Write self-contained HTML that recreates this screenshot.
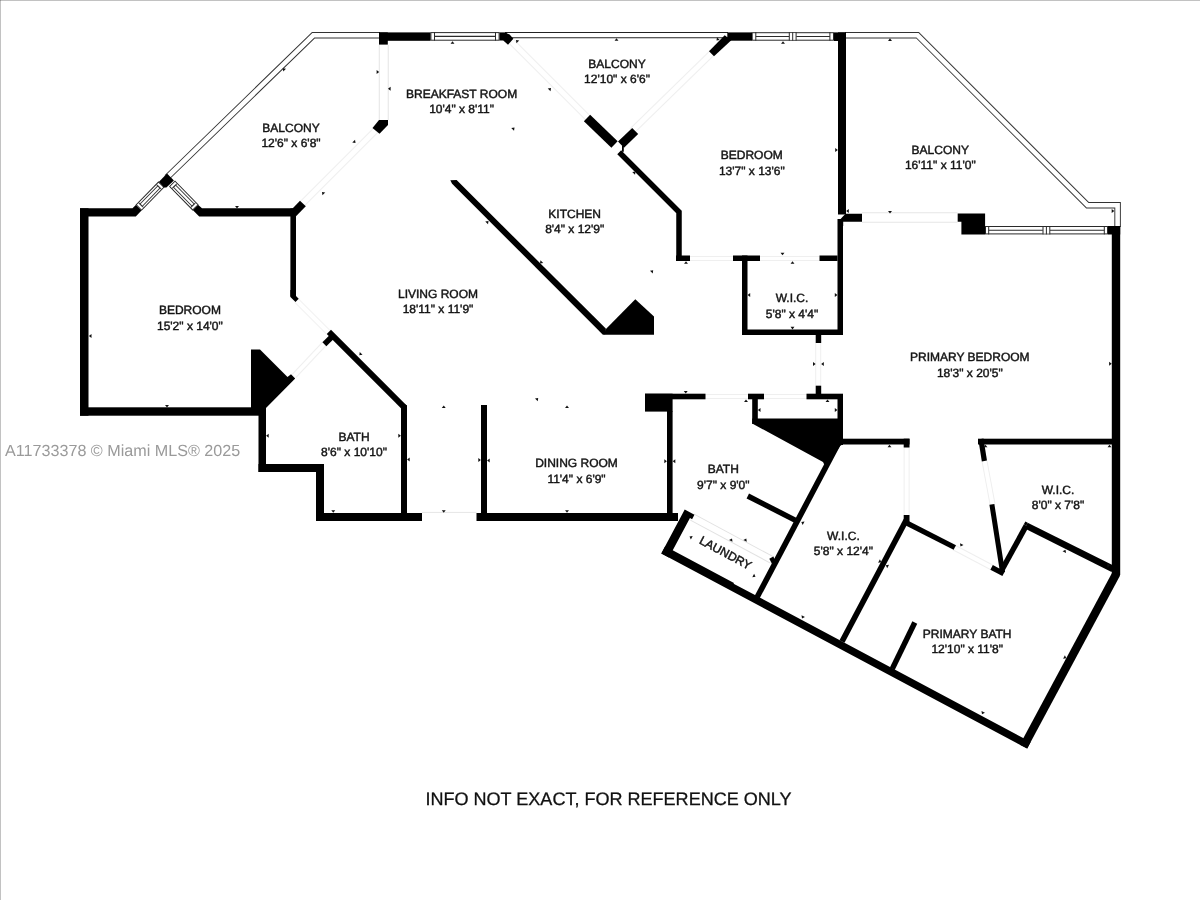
<!DOCTYPE html>
<html><head><meta charset="utf-8"><title>Floor plan</title>
<style>
html,body{margin:0;padding:0;background:#fff;}
body{width:1200px;height:900px;overflow:hidden;font-family:"Liberation Sans",sans-serif;}
svg{display:block}
text{text-rendering:geometricPrecision;-webkit-font-smoothing:antialiased}
</style></head><body>
<svg width="1200" height="900" viewBox="0 0 1200 900">
<rect width="1200" height="900" fill="#fff"/>
<rect x="0" y="0" width="1200" height="1" fill="#c2c2c2"/>
<rect x="0" y="0" width="1" height="900" fill="#c2c2c2"/>
<rect x="0" y="0" width="1" height="1" fill="#959595"/>
<polyline points="166.9,177.5 313.3,35.3 380,35.3" fill="none" stroke="#333" stroke-width="6.5" stroke-linejoin="miter"/>
<polyline points="166.9,177.5 313.3,35.3 380,35.3" fill="none" stroke="#fff" stroke-width="4.6" stroke-linejoin="miter"/>
<polyline points="505,35.2 728,35.2" fill="none" stroke="#222" stroke-width="6.3" stroke-linejoin="miter"/>
<polyline points="505,35.2 728,35.2" fill="none" stroke="#fff" stroke-width="4.3" stroke-linejoin="miter"/>
<polyline points="845,35.3 917.6,35.3 1087.6,205.3 1117.6,205.3 1117.6,227" fill="none" stroke="#333" stroke-width="6.5" stroke-linejoin="miter"/>
<polyline points="845,35.3 917.6,35.3 1087.6,205.3 1117.6,205.3 1117.6,227" fill="none" stroke="#fff" stroke-width="4.6" stroke-linejoin="miter"/>
<line x1="383.75" y1="45" x2="383.75" y2="120" stroke="#e4e4e4" stroke-width="10" stroke-linecap="butt"/>
<line x1="383.75" y1="45" x2="383.75" y2="120" stroke="#fff" stroke-width="8" stroke-linecap="butt"/>
<line x1="376" y1="130" x2="301" y2="205" stroke="#efefef" stroke-width="7" stroke-linecap="butt"/>
<line x1="376" y1="130" x2="301" y2="205" stroke="#fff" stroke-width="5" stroke-linecap="butt"/>
<line x1="512" y1="42" x2="588" y2="118" stroke="#efefef" stroke-width="7" stroke-linecap="butt"/>
<line x1="512" y1="42" x2="588" y2="118" stroke="#fff" stroke-width="5" stroke-linecap="butt"/>
<line x1="632" y1="131" x2="713" y2="52" stroke="#efefef" stroke-width="7" stroke-linecap="butt"/>
<line x1="632" y1="131" x2="713" y2="52" stroke="#fff" stroke-width="5" stroke-linecap="butt"/>
<line x1="690" y1="258.5" x2="733" y2="258.5" stroke="#efefef" stroke-width="5" stroke-linecap="butt"/>
<line x1="690" y1="258.5" x2="733" y2="258.5" stroke="#fff" stroke-width="3" stroke-linecap="butt"/>
<line x1="760" y1="258.5" x2="819.5" y2="258.5" stroke="#efefef" stroke-width="5" stroke-linecap="butt"/>
<line x1="760" y1="258.5" x2="819.5" y2="258.5" stroke="#fff" stroke-width="3" stroke-linecap="butt"/>
<line x1="862" y1="217.5" x2="957.5" y2="217.5" stroke="#e6e6e6" stroke-width="10.4" stroke-linecap="butt"/>
<line x1="862" y1="217.5" x2="957.5" y2="217.5" stroke="#fff" stroke-width="8.4" stroke-linecap="butt"/>
<line x1="818.2" y1="343" x2="818.2" y2="385.5" stroke="#efefef" stroke-width="6" stroke-linecap="butt"/>
<line x1="818.2" y1="343" x2="818.2" y2="385.5" stroke="#fff" stroke-width="4" stroke-linecap="butt"/>
<line x1="705.5" y1="396.5" x2="748" y2="396.5" stroke="#efefef" stroke-width="5" stroke-linecap="butt"/>
<line x1="705.5" y1="396.5" x2="748" y2="396.5" stroke="#fff" stroke-width="3" stroke-linecap="butt"/>
<line x1="764" y1="396.5" x2="807" y2="396.5" stroke="#efefef" stroke-width="5" stroke-linecap="butt"/>
<line x1="764" y1="396.5" x2="807" y2="396.5" stroke="#fff" stroke-width="3" stroke-linecap="butt"/>
<line x1="422" y1="512.4" x2="476.5" y2="512.4" stroke="#e6e6e6" stroke-width="1" stroke-linecap="butt"/>
<line x1="296.5" y1="300.5" x2="328" y2="332" stroke="#efefef" stroke-width="6" stroke-linecap="butt"/>
<line x1="296.5" y1="300.5" x2="328" y2="332" stroke="#fff" stroke-width="4" stroke-linecap="butt"/>
<line x1="294" y1="376" x2="326" y2="342" stroke="#efefef" stroke-width="6" stroke-linecap="butt"/>
<line x1="294" y1="376" x2="326" y2="342" stroke="#fff" stroke-width="4" stroke-linecap="butt"/>
<line x1="906.6" y1="447.5" x2="906.6" y2="515" stroke="#efefef" stroke-width="6" stroke-linecap="butt"/>
<line x1="906.6" y1="447.5" x2="906.6" y2="515" stroke="#fff" stroke-width="4" stroke-linecap="butt"/>
<line x1="984.5" y1="461" x2="992.5" y2="504" stroke="#efefef" stroke-width="6" stroke-linecap="butt"/>
<line x1="984.5" y1="461" x2="992.5" y2="504" stroke="#fff" stroke-width="4" stroke-linecap="butt"/>
<line x1="954" y1="547.5" x2="992" y2="567.5" stroke="#efefef" stroke-width="6" stroke-linecap="butt"/>
<line x1="954" y1="547.5" x2="992" y2="567.5" stroke="#fff" stroke-width="4" stroke-linecap="butt"/>
<line x1="692" y1="517" x2="772" y2="560" stroke="#e2e2e2" stroke-width="8" stroke-linecap="butt"/>
<line x1="692" y1="517" x2="772" y2="560" stroke="#fff" stroke-width="6" stroke-linecap="butt"/>
<line x1="138.6" y1="207.8" x2="161.5" y2="184.3" stroke="#222" stroke-width="8.4" stroke-linecap="butt"/>
<line x1="139.22811433129175" y1="207.15542852465694" x2="160.87188566870825" y2="184.94457147534308" stroke="#fff" stroke-width="6.6000000000000005" stroke-linecap="butt"/>
<line x1="140.83329540014842" y1="205.50819030989138" x2="159.26670459985158" y2="186.59180969010865" stroke="#333" stroke-width="4.0" stroke-linecap="butt"/>
<line x1="141.46140973144017" y1="204.8636188345483" x2="158.63859026855982" y2="187.23638116545172" stroke="#fff" stroke-width="2.2" stroke-linecap="butt"/>
<line x1="140.83329540014842" y1="205.50819030989138" x2="141.46140973144017" y2="204.8636188345483" stroke="#333" stroke-width="6.6000000000000005" stroke-linecap="butt"/>
<line x1="159.26670459985158" y1="186.59180969010865" x2="158.63859026855982" y2="187.23638116545172" stroke="#333" stroke-width="6.6000000000000005" stroke-linecap="butt"/>
<line x1="172" y1="183.5" x2="195.7" y2="207.7" stroke="#222" stroke-width="8.4" stroke-linecap="butt"/>
<line x1="172.6297188311861" y1="184.1430040385951" x2="195.0702811688139" y2="207.05699596140488" stroke="#fff" stroke-width="6.6000000000000005" stroke-linecap="butt"/>
<line x1="174.2390002886617" y1="185.78623658167146" x2="193.46099971133827" y2="205.41376341832853" stroke="#333" stroke-width="4.0" stroke-linecap="butt"/>
<line x1="174.8687191198478" y1="186.42924062026654" x2="192.83128088015218" y2="204.77075937973345" stroke="#fff" stroke-width="2.2" stroke-linecap="butt"/>
<line x1="174.2390002886617" y1="185.78623658167146" x2="174.8687191198478" y2="186.42924062026654" stroke="#333" stroke-width="6.6000000000000005" stroke-linecap="butt"/>
<line x1="193.46099971133827" y1="205.41376341832853" x2="192.83128088015218" y2="204.77075937973345" stroke="#333" stroke-width="6.6000000000000005" stroke-linecap="butt"/>
<rect x="430.9" y="32.6" width="68.2" height="7.6" fill="#fff" stroke="#2a2a2a" stroke-width="1"/>
<line x1="434.5" y1="32.1" x2="434.5" y2="40.7" stroke="#2a2a2a" stroke-width="1" stroke-linecap="butt"/>
<line x1="495.5" y1="32.1" x2="495.5" y2="40.7" stroke="#2a2a2a" stroke-width="1" stroke-linecap="butt"/>
<line x1="434.5" y1="36.400000000000006" x2="495.5" y2="36.400000000000006" stroke="#2a2a2a" stroke-width="1.1" stroke-linecap="butt"/>
<rect x="752.2" y="32.7" width="81.3" height="7.5" fill="#fff" stroke="#2a2a2a" stroke-width="1"/>
<line x1="755.8000000000001" y1="32.2" x2="755.8000000000001" y2="40.7" stroke="#2a2a2a" stroke-width="1" stroke-linecap="butt"/>
<line x1="829.9" y1="32.2" x2="829.9" y2="40.7" stroke="#2a2a2a" stroke-width="1" stroke-linecap="butt"/>
<line x1="755.8000000000001" y1="36.45" x2="829.9" y2="36.45" stroke="#2a2a2a" stroke-width="1.1" stroke-linecap="butt"/>
<rect x="789.1" y="33.2" width="7.2" height="6.5" fill="#fff"/>
<line x1="789.3000000000001" y1="32.2" x2="789.3000000000001" y2="40.7" stroke="#2a2a2a" stroke-width="1" stroke-linecap="butt"/>
<line x1="792.7" y1="32.2" x2="792.7" y2="40.7" stroke="#2a2a2a" stroke-width="1" stroke-linecap="butt"/>
<line x1="796.1" y1="32.2" x2="796.1" y2="40.7" stroke="#2a2a2a" stroke-width="1" stroke-linecap="butt"/>
<rect x="985.5" y="226.5" width="122" height="7.4" fill="#fff" stroke="#2a2a2a" stroke-width="1"/>
<line x1="988.7" y1="226" x2="988.7" y2="234.4" stroke="#2a2a2a" stroke-width="1" stroke-linecap="butt"/>
<line x1="1104.3" y1="226" x2="1104.3" y2="234.4" stroke="#2a2a2a" stroke-width="1" stroke-linecap="butt"/>
<line x1="988.7" y1="230.2" x2="1104.3" y2="230.2" stroke="#2a2a2a" stroke-width="1.1" stroke-linecap="butt"/>
<rect x="1042.8000000000002" y="227" width="7.2" height="6.4" fill="#fff"/>
<line x1="1043.0" y1="226" x2="1043.0" y2="234.4" stroke="#2a2a2a" stroke-width="1" stroke-linecap="butt"/>
<line x1="1046.4" y1="226" x2="1046.4" y2="234.4" stroke="#2a2a2a" stroke-width="1" stroke-linecap="butt"/>
<line x1="1049.8000000000002" y1="226" x2="1049.8000000000002" y2="234.4" stroke="#2a2a2a" stroke-width="1" stroke-linecap="butt"/>
<polygon points="167,173.6 173.9,180.4 166.4,187.6 164,187.6 159,181.8" fill="#000"/>
<rect x="80" y="208.3" width="8.5" height="207.4" fill="#000"/>
<polygon points="80,208.3 132.5,208.3 135.8,205 141.5,210.5 135.8,216.6 80,216.6" fill="#000"/>
<polygon points="296,208.3 202,208.3 198.3,205 193,210.3 199.2,216.6 296,216.6" fill="#000"/>
<polygon points="292.5,208.5 300,200.8 305.8,206.3 296,216.3" fill="#000"/>
<rect x="290.4" y="208.4" width="5.6" height="88.1" fill="#000"/>
<polygon points="290.4,290 296,290 296,296 298.7,298.7 295.5,302 290.4,297" fill="#000"/>
<rect x="80" y="407.3" width="186" height="8.4" fill="#000"/>
<polygon points="251,349.5 260,349.5 287.5,377 291,374.3 295.2,378.5 266,408 251,408" fill="#000"/>
<rect x="258.5" y="407.5" width="7.5" height="64.5" fill="#000"/>
<rect x="258.5" y="464" width="65.5" height="8" fill="#000"/>
<rect x="316" y="464" width="8" height="57" fill="#000"/>
<rect x="316" y="513" width="106" height="8" fill="#000"/>
<rect x="401" y="405.5" width="6" height="107.5" fill="#000"/>
<line x1="328.9" y1="331.9" x2="404.6" y2="407.6" stroke="#000" stroke-width="6" stroke-linecap="butt"/>
<polygon points="401,402 407,405.5 407,410 401,410" fill="#000"/>
<line x1="324.4" y1="344.2" x2="332.2" y2="336.4" stroke="#000" stroke-width="5.6" stroke-linecap="butt"/>
<rect x="481" y="405" width="6" height="108" fill="#000"/>
<rect x="476.5" y="513" width="201.5" height="8" fill="#000"/>
<rect x="667" y="411" width="5.6" height="102" fill="#000"/>
<rect x="645" y="393.7" width="27.6" height="17.9" fill="#000"/>
<rect x="645" y="393.7" width="60.5" height="5.6" fill="#000"/>
<rect x="748" y="393.7" width="16" height="5.6" fill="#000"/>
<rect x="806.5" y="393.7" width="36.5" height="5.6" fill="#000"/>
<rect x="815.7" y="385.7" width="5.5" height="8.3" fill="#000"/>
<rect x="815.7" y="335" width="5.5" height="8" fill="#000"/>
<rect x="752.2" y="399" width="5.6" height="25" fill="#000"/>
<rect x="837.5" y="394" width="5.5" height="51" fill="#000"/>
<polygon points="752.2,418.5 843,418.5 843,444 840,446 826,468 823,462 752.2,423.5" fill="#000"/>
<polygon points="450.3,180.3 456.6,180 605.8,328.6 605,334.7 602.9,334.7 452.1,183.7" fill="#000"/>
<polygon points="604.6,334.7 605.2,329.8 635.3,299.3 654,316.4 654,334.7" fill="#000"/>
<line x1="587" y1="118" x2="614.5" y2="144.5" stroke="#000" stroke-width="9" stroke-linecap="butt"/>
<line x1="635.2" y1="131" x2="621" y2="144.7" stroke="#000" stroke-width="8.6" stroke-linecap="butt"/>
<line x1="622.9" y1="146" x2="622.9" y2="151.8" stroke="#000" stroke-width="1.8" stroke-linecap="butt"/>
<polyline points="619.2,152.2 679,212 679,261" fill="none" stroke="#000" stroke-width="5.5" stroke-linejoin="miter"/>
<rect x="676" y="255.5" width="14" height="5.5" fill="#000"/>
<rect x="733" y="255.5" width="27" height="5.5" fill="#000"/>
<rect x="742" y="255.5" width="5.5" height="79.5" fill="#000"/>
<rect x="742" y="329.5" width="101" height="5.5" fill="#000"/>
<rect x="837.5" y="219" width="5.5" height="116" fill="#000"/>
<rect x="819.5" y="255.5" width="18.0" height="5.5" fill="#000"/>
<rect x="727.3" y="32.4" width="24.7" height="8.3" fill="#000"/>
<polygon points="724.7,35.3 731.3,40.2 714,56.3 709,51.3" fill="#000"/>
<rect x="838" y="32.4" width="8" height="182.1" fill="#000"/>
<rect x="834" y="32.4" width="12" height="8.6" fill="#000"/>
<polygon points="846,213.7 862,213.7 862,221.7 843.2,221.7 843.2,226 838,226 838,221.7 845,214.2" fill="#000"/>
<rect x="379" y="32.4" width="51.5" height="8.4" fill="#000"/>
<rect x="379" y="32.4" width="8.8" height="12.2" fill="#000"/>
<rect x="499.5" y="32.4" width="7.2" height="8.1" fill="#000"/>
<polygon points="506,33 509.6,34.6 513.4,38.8 508,44.7 503.3,40.4" fill="#000"/>
<polygon points="379,120 388,120 388,125 379.5,133.8 372.5,128" fill="#000"/>
<polygon points="957.7,213.4 985.1,213.4 985.1,234.4 961.4,234.4 961.4,221.7 957.7,221.7" fill="#000"/>
<rect x="1111.8" y="226" width="8.4" height="349" fill="#000"/>
<rect x="1108" y="226" width="12.2" height="8.5" fill="#000"/>
<rect x="978" y="438.7" width="134" height="5.8" fill="#000"/>
<line x1="980.9" y1="439" x2="984.4" y2="461" stroke="#000" stroke-width="5.2" stroke-linecap="butt"/>
<line x1="991.9" y1="504.4" x2="1002.6" y2="572.5" stroke="#000" stroke-width="5" stroke-linecap="butt"/>
<line x1="1026.25" y1="525.65" x2="1000.2" y2="573" stroke="#000" stroke-width="5.5" stroke-linecap="butt"/>
<line x1="1026.25" y1="525.65" x2="1113" y2="569" stroke="#000" stroke-width="6.5" stroke-linecap="butt"/>
<polygon points="1023.84,524.32 1025.35,521.57 1027.7,522.74 1026.25,525.65" fill="#000"/>
<line x1="991.6" y1="567.4" x2="1003.6" y2="573.8" stroke="#000" stroke-width="5.2" stroke-linecap="butt"/>
<line x1="904" y1="521.6" x2="954.8" y2="547.5" stroke="#000" stroke-width="5.3" stroke-linecap="butt"/>
<rect x="843" y="438.7" width="66.5" height="5.8" fill="#000"/>
<rect x="903.7" y="438.7" width="5.8" height="8.8" fill="#000"/>
<rect x="903.7" y="515" width="5.8" height="7" fill="#000"/>
<line x1="838.0" y1="444" x2="757.2" y2="597" stroke="#000" stroke-width="5.6" stroke-linecap="butt"/>
<line x1="906.3" y1="520" x2="842.0" y2="641.5" stroke="#000" stroke-width="5.7" stroke-linecap="butt"/>
<line x1="747.8" y1="496" x2="797" y2="521.1" stroke="#000" stroke-width="5.4" stroke-linecap="butt"/>
<polygon points="661.3,553.5 1027.2,748.6 1030.68,742.07 733.61,583.67 733.99,582.96 665.16,546.26" fill="#000"/>
<polygon points="1027.2,748.6 1120.1,575.5 1114.12,568.89 1019.8,744.63" fill="#000"/>
<polygon points="661.3,553.5 684.73,509.56 694.44,514.74 692.09,519.15 689.97,518.02 668.89,557.55" fill="#000"/>
<line x1="914.8" y1="622.5" x2="892.3" y2="668.8" stroke="#000" stroke-width="5.4" stroke-linecap="butt"/>
<line x1="771.3" y1="557.6" x2="774.2" y2="563.2" stroke="#000" stroke-width="4.5" stroke-linecap="butt"/>
<polygon points="282.8,68.3 286.02,68.76 283.26,71.52" fill="#111"/>
<polygon points="355.5,143 352.28,142.54 355.04,139.78" fill="#111"/>
<polygon points="322,192 325.22,192.46 322.46,195.22" fill="#111"/>
<polygon points="237,208.6 235.05,206.0 238.95,206.0" fill="#111"/>
<polygon points="452.5,41.2 454.45,43.8 450.55,43.8" fill="#111"/>
<polygon points="379.2,72 376.6,73.95 376.6,70.05" fill="#111"/>
<polygon points="388,88.8 390.6,86.85 390.6,90.75" fill="#111"/>
<polygon points="514.5,127.5 514.04,130.72 511.28,127.96" fill="#111"/>
<polygon points="516,40 519.22,40.46 516.46,43.22" fill="#111"/>
<polygon points="551,88 550.54,91.22 547.78,88.46" fill="#111"/>
<polygon points="616.5,38.2 618.45,40.8 614.55,40.8" fill="#111"/>
<polygon points="488.5,221 488.04,224.22 485.28,221.46" fill="#111"/>
<polygon points="635.5,171.5 635.04,174.72 632.28,171.96" fill="#111"/>
<polygon points="716.5,40.5 716.96,37.28 719.72,40.04" fill="#111"/>
<polygon points="783,41.2 784.95,43.8 781.05,43.8" fill="#111"/>
<polygon points="837.8,150 835.2,151.95 835.2,148.05" fill="#111"/>
<polygon points="846.2,211 848.8,209.05 848.8,212.95" fill="#111"/>
<polygon points="890,38.3 891.95,40.9 888.05,40.9" fill="#111"/>
<polygon points="890,213.6 888.05,211.0 891.95,211.0" fill="#111"/>
<polygon points="1114.3,211 1111.7,212.95 1111.7,209.05" fill="#111"/>
<polygon points="88.9,336 91.5,334.05 91.5,337.95" fill="#111"/>
<polygon points="167,407.6 165.05,405.0 168.95,405.0" fill="#111"/>
<polygon points="540,263.5 540.46,260.28 543.22,263.04" fill="#111"/>
<polygon points="359.3,355.3 359.76,352.08 362.52,354.84" fill="#111"/>
<polygon points="443.75,405.5 445.7,408.1 441.8,408.1" fill="#111"/>
<polygon points="538.2,398 537.74,401.22 534.98,398.46" fill="#111"/>
<polygon points="567,405.5 568.95,408.1 565.05,408.1" fill="#111"/>
<polygon points="686,261.2 687.95,263.8 684.05,263.8" fill="#111"/>
<polygon points="653.2,270.3 652.74,273.52 649.98,270.76" fill="#111"/>
<polygon points="782.5,255.3 780.55,252.7 784.45,252.7" fill="#111"/>
<polygon points="792.5,261.2 794.45,263.8 790.55,263.8" fill="#111"/>
<polygon points="747.6,295 750.2,293.05 750.2,296.95" fill="#111"/>
<polygon points="837.4,295 834.8,296.95 834.8,293.05" fill="#111"/>
<polygon points="792.5,329.4 790.55,326.8 794.45,326.8" fill="#111"/>
<polygon points="815.6,364 813.0,365.95 813.0,362.05" fill="#111"/>
<polygon points="821.2,364 823.8,362.05 823.8,365.95" fill="#111"/>
<polygon points="685.75,393.6 683.8,391.0 687.7,391.0" fill="#111"/>
<polygon points="746,399.5 747.95,402.1 744.05,402.1" fill="#111"/>
<polygon points="827.5,399.5 829.45,402.1 825.55,402.1" fill="#111"/>
<polygon points="757.9,410 760.5,408.05 760.5,411.95" fill="#111"/>
<polygon points="837.4,410 834.8,411.95 834.8,408.05" fill="#111"/>
<polygon points="1111.7,363.75 1109.1,365.7 1109.1,361.8" fill="#111"/>
<polygon points="266.1,435.75 268.7,433.8 268.7,437.7" fill="#111"/>
<polygon points="400.9,435.75 398.3,437.7 398.3,433.8" fill="#111"/>
<polygon points="407.1,459.5 409.7,457.55 409.7,461.45" fill="#111"/>
<polygon points="480.9,460 478.3,461.95 478.3,458.05" fill="#111"/>
<polygon points="487.1,460.5 489.7,458.55 489.7,462.45" fill="#111"/>
<polygon points="443.75,512.8 441.8,510.2 445.7,510.2" fill="#111"/>
<polygon points="333.25,512.8 331.3,510.2 335.2,510.2" fill="#111"/>
<polygon points="666.9,461.25 664.3,463.2 664.3,459.3" fill="#111"/>
<polygon points="672.7,461.25 675.3,459.3 675.3,463.2" fill="#111"/>
<polygon points="567,512.8 565.05,510.2 568.95,510.2" fill="#111"/>
<polygon points="689.5,536.5 692.71,536.0 690.88,539.44" fill="#111"/>
<polygon points="732,538.5 732.5,541.71 729.06,539.88" fill="#111"/>
<polygon points="746.3,538.5 746.8,541.71 743.36,539.88" fill="#111"/>
<polygon points="755.5,576.8 752.29,577.3 754.12,573.86" fill="#111"/>
<polygon points="801.3,522 804.51,521.5 802.68,524.94" fill="#111"/>
<polygon points="889.5,444.7 891.45,447.3 887.55,447.3" fill="#111"/>
<polygon points="881.3,562.3 878.09,562.8 879.92,559.36" fill="#111"/>
<polygon points="885.8,565.3 889.01,564.8 887.18,568.24" fill="#111"/>
<polygon points="985.5,444.7 987.45,447.3 983.55,447.3" fill="#111"/>
<polygon points="1109.5,444.7 1111.45,447.3 1107.55,447.3" fill="#111"/>
<polygon points="960.5,546.5 960.0,543.29 963.44,545.12" fill="#111"/>
<polygon points="1065.5,549.8 1066.0,553.01 1062.56,551.18" fill="#111"/>
<polygon points="1110,565.5 1107.4,567.45 1107.4,563.55" fill="#111"/>
<polygon points="802,618.4 801.5,615.19 804.94,617.02" fill="#111"/>
<polygon points="1066.3,658.2 1063.09,658.7 1064.92,655.26" fill="#111"/>
<polygon points="982,714.2 981.5,710.99 984.94,712.82" fill="#111"/>
<!--TEXT-->
<g style="filter:grayscale(1)"><g font-family="'Liberation Sans', sans-serif" font-size="12" fill="#151515" stroke="#151515" stroke-width="0.45" text-anchor="middle"><text x="461.6" y="98">BREAKFAST ROOM</text><text x="461.6" y="112.5">10'4&quot; x 8'11&quot;</text>
<text x="291" y="131.75">BALCONY</text><text x="291" y="147">12'6&quot; x 6'8&quot;</text>
<text x="617" y="67.5">BALCONY</text><text x="617" y="82.5">12'10&quot; x 6'6&quot;</text>
<text x="751.8" y="158.75">BEDROOM</text><text x="751.8" y="174.5">13'7&quot; x 13'6&quot;</text>
<text x="940.3" y="154.25">BALCONY</text><text x="940.3" y="169.25">16'11&quot; x 11'0&quot;</text>
<text x="574.7" y="217.5">KITCHEN</text><text x="574.7" y="232.5">8'4&quot; x 12'9&quot;</text>
<text x="438" y="298">LIVING ROOM</text><text x="438" y="313">18'11&quot; x 11'9&quot;</text>
<text x="189.9" y="314.25">BEDROOM</text><text x="189.9" y="329.5">15'2&quot; x 14'0&quot;</text>
<text x="354" y="441.25">BATH</text><text x="354" y="456.25">8'6&quot; x 10'10&quot;</text>
<text x="576.5" y="466.75">DINING ROOM</text><text x="576.5" y="482.5">11'4&quot; x 6'9&quot;</text>
<text x="723.3" y="473">BATH</text><text x="723.3" y="488.75">9'7&quot; x 9'0&quot;</text>
<text x="792" y="302">W.I.C.</text><text x="792" y="317.5">5'8&quot; x 4'4&quot;</text>
<text x="969.8" y="361.25">PRIMARY BEDROOM</text><text x="969.8" y="376.7">18'3&quot; x 20'5&quot;</text>
<text x="843.4" y="540">W.I.C.</text><text x="843.4" y="555">5'8&quot; x 12'4&quot;</text>
<text x="1058" y="493.75">W.I.C.</text><text x="1058" y="509.25">8'0&quot; x 7'8&quot;</text>
<text x="967.2" y="638">PRIMARY BATH</text><text x="967.2" y="653">12'10&quot; x 11'8&quot;</text>
<text x="725.5" y="557" transform="rotate(28 725.5 553)">LAUNDRY</text></g>
<text x="5" y="455.7" font-family="'Liberation Sans', sans-serif" font-size="16.15" fill="#9a9a9a">A11733378 © Miami MLS® 2025</text>
<text x="608.5" y="805.3" text-anchor="middle" font-family="'Liberation Sans', sans-serif" font-size="18.05" fill="#111" stroke="#111" stroke-width="0.3">INFO NOT EXACT, FOR REFERENCE ONLY</text></g>
</svg>
</body></html>
